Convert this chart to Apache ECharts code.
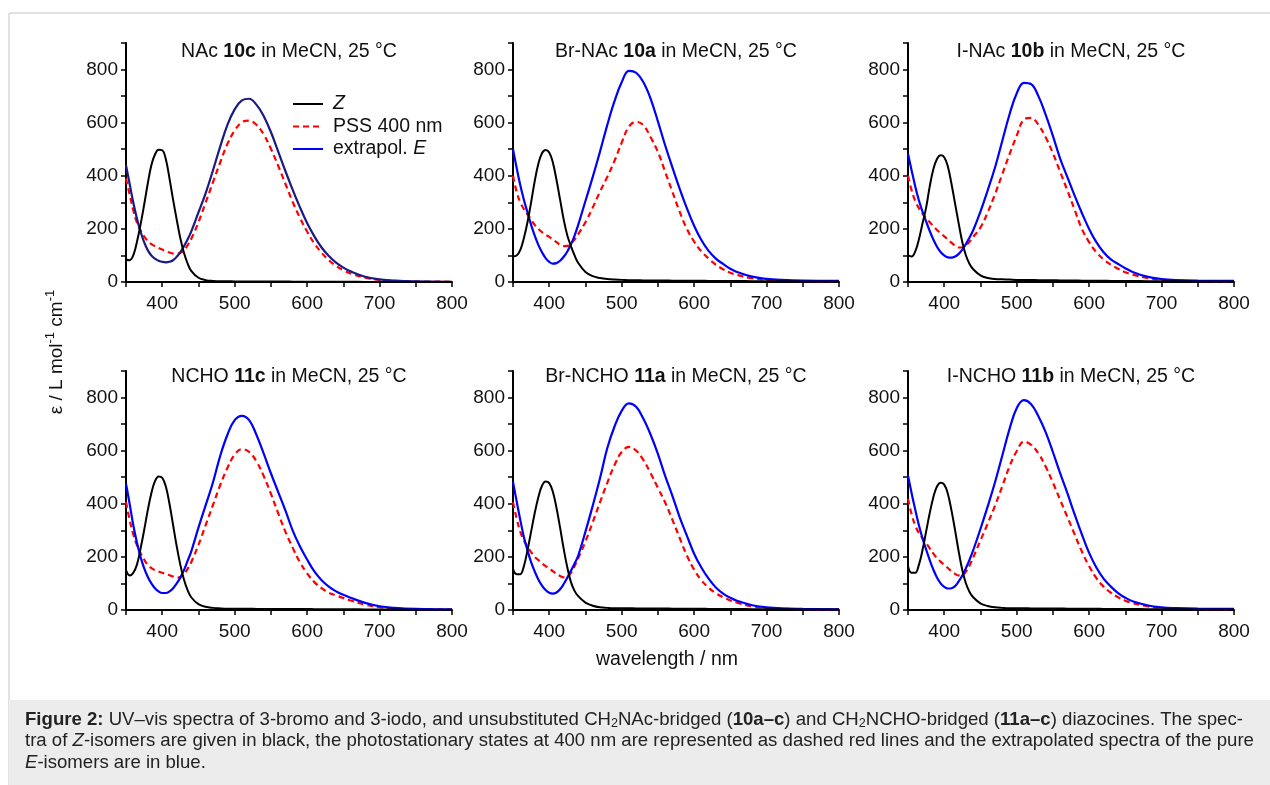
<!DOCTYPE html>
<html><head><meta charset="utf-8">
<script src="https://cdn.jsdelivr.net/npm/echarts@6/dist/echarts.min.js"></script>
<style>html,body{margin:0;padding:0;background:#fff}#c{width:1270px;height:785px}</style>
</head><body><div id="c"></div>
<script>
// wavelengths (nm)
const wl = [350,355,360,365,370,375,380,385,390,395,400,405,410,415,420,425,430,435,440,450,460,470,480,490,500,510,520,530,540,550,560,570,580,590,600,610,620,630,640,650,660,680,700,720,750,800];

// NAc 10c
const z10c   = [85,82,100,150,215,290,370,440,480,498,496,462,390,310,235,165,110,70,42,16,7,4,3,3,2,2,2,2,2,2,2,2,1,1,1,1,1,1,1,1,1,0,0,0,0,0];
const pss10c = [390,330,270,225,195,172,155,143,135,128,122,116,111,107,106,110,120,138,162,225,300,375,450,520,570,602,608,592,556,502,438,370,302,242,190,145,110,82,60,44,32,16,8,4,2,1];
const ext10c = [440,370,300,240,190,150,120,100,88,80,76,74,76,82,95,112,135,160,190,262,335,420,510,592,650,684,690,668,625,565,492,418,348,282,222,172,130,98,73,54,40,20,10,5,2,1];
// Br-NAc 10a
const z10a   = [97,100,120,165,225,300,380,445,485,497,488,450,385,310,235,175,135,100,72,38,22,15,11,9,8,7,7,6,6,6,6,5,5,5,5,5,4,4,4,4,4,3,3,3,2,2];
const pss10a = [400,340,300,275,255,235,215,200,188,178,170,160,150,140,135,136,145,160,180,225,280,340,395,455,525,585,603,590,545,490,415,340,265,200,152,115,88,65,48,35,26,14,8,5,3,2];
const ext10a = [500,430,365,310,262,215,175,140,112,90,76,69,71,80,95,115,142,175,215,305,395,490,590,680,752,795,788,752,690,605,515,432,352,278,212,158,117,88,68,50,37,20,12,8,5,4];
// I-NAc 10b
const z10b   = [100,96,115,160,220,280,360,425,463,477,470,435,370,295,220,150,100,68,48,25,15,11,10,9,8,8,8,7,7,7,6,6,6,5,5,5,5,4,4,4,4,3,3,3,2,2];
const pss10b = [400,345,305,278,258,240,225,210,196,184,172,160,148,137,130,130,138,152,170,205,262,330,405,480,550,612,618,592,545,485,415,345,272,200,150,112,85,65,50,37,28,15,8,5,3,2];
const ext10b = [483,420,360,308,265,228,192,160,133,113,100,93,92,96,106,122,143,168,195,265,345,430,530,630,710,750,745,700,630,550,465,395,325,260,200,150,112,85,68,52,38,20,11,7,5,4];
// NCHO 11c
const z11c   = [150,130,140,170,230,300,375,440,485,503,498,465,400,320,240,170,115,75,48,22,12,8,6,5,5,5,5,4,4,4,4,4,4,4,4,3,3,3,3,3,3,2,2,2,1,1];
const pss11c = [407,340,285,245,215,190,170,158,150,145,140,136,131,126,122,124,135,155,180,245,320,395,470,535,585,606,595,560,505,438,365,295,235,180,138,105,82,65,55,45,36,20,11,6,3,2];
const ext11c = [476,400,320,255,200,158,125,100,82,70,64,64,70,82,100,122,150,185,220,310,395,480,580,660,715,731,715,660,590,515,445,375,300,240,190,145,112,88,70,57,46,27,14,8,4,2];
// Br-NCHO 11a
const z11a   = [155,135,135,165,225,295,365,425,468,484,478,445,385,310,230,160,105,72,52,28,16,10,8,7,7,7,6,6,6,6,6,5,5,5,5,5,4,4,4,4,4,3,3,3,2,2];
const pss11a = [406,345,295,262,238,218,200,188,176,165,156,146,136,128,123,125,140,165,195,258,330,405,478,545,595,614,600,565,515,460,405,340,272,205,152,112,84,63,48,36,27,14,8,5,3,2];
const ext11a = [482,410,340,275,225,180,145,115,92,75,65,62,66,78,98,122,148,175,205,295,392,495,608,690,750,778,765,720,660,588,505,430,350,280,212,160,118,85,62,46,34,18,10,6,4,2];
// I-NCHO 11b
const z11b   = [165,140,140,170,225,295,365,425,465,479,472,438,375,300,220,150,100,68,48,25,15,10,8,7,7,7,6,6,6,6,6,5,5,5,5,5,4,4,4,4,4,3,3,3,2,2];
const pss11b = [419,360,318,290,270,252,232,212,195,182,170,158,146,136,130,131,145,168,198,262,325,392,465,540,598,634,622,590,540,480,415,350,285,220,165,120,88,65,48,35,26,14,8,5,3,2];
const ext11b = [506,440,378,320,270,228,188,152,122,100,87,81,82,90,108,130,158,190,225,305,390,480,580,680,760,790,775,730,670,595,515,440,360,285,215,160,118,88,64,46,33,18,10,7,5,4];

const panelPrefix = ['NAc','Br-NAc','I-NAc','NCHO','Br-NCHO','I-NCHO'];
const compounds   = ['10c','10a','10b','11c','11a','11b'];
const zSets   = [z10c, z10a, z10b, z11c, z11a, z11b];
const pssSets = [pss10c, pss10a, pss10b, pss11c, pss11a, pss11b];
const extSets = [ext10c, ext10a, ext10b, ext11c, ext11a, ext11b];
const seriesNames = ['Z','PSS 400 nm','extrapol. E'];
const xTickLabels = [400,500,600,700,800];
const yTickLabels = [0,200,400,600,800];

const FONT = 'Liberation Sans, Arial, Helvetica, sans-serif';
const lefts = [126, 513, 908], tops = [43, 371], GW = 326, GH = 239;
const titleY = [52, 377];

const grids = [], xAxes = [], yAxes = [], series = [], graphics = [];
for (let k = 0; k < 6; k++) {
  const col = k % 3, row = Math.floor(k / 3);
  grids.push({left: lefts[col], top: tops[row], width: GW, height: GH, containLabel: false});
  xAxes.push({
    gridIndex: k, type: 'value', min: 350, max: 800, interval: 50,
    axisLine: {show: true, onZero: false, lineStyle: {color: '#000', width: 2}},
    axisTick: {show: true, length: 5, lineStyle: {color: '#000', width: 1.5}},
    axisLabel: {formatter: v => xTickLabels.includes(v) ? String(v) : '', fontSize: 19, color: '#111', margin: 12, fontFamily: FONT},
    splitLine: {show: false}
  });
  yAxes.push({
    gridIndex: k, type: 'value', min: 0, max: 900, interval: 100,
    axisLine: {show: true, lineStyle: {color: '#000', width: 2}},
    axisTick: {show: true, length: 5, lineStyle: {color: '#000', width: 1.5}},
    axisLabel: {formatter: v => yTickLabels.includes(v) ? String(v) : '', fontSize: 19, color: '#111', margin: 8, fontFamily: FONT},
    splitLine: {show: false}
  });
  const mk = arr => wl.map((x, i) => [x, arr[i]]);
  series.push({
    name: seriesNames[1], type: 'line', xAxisIndex: k, yAxisIndex: k, data: mk(pssSets[k]),
    symbol: 'none', smooth: 0.4, lineStyle: {color: '#ff0000', width: 2.2, type: [6, 4]}, itemStyle: {color: '#ff0000'}, z: 2
  });
  const blue = k === 0 ? '#1a1a85' : '#0000ff';
  series.push({
    name: seriesNames[2], type: 'line', xAxisIndex: k, yAxisIndex: k, data: mk(extSets[k]),
    symbol: 'none', smooth: 0.4, lineStyle: {color: blue, width: 2.2}, itemStyle: {color: blue}, z: 3
  });
  series.push({
    name: seriesNames[0], type: 'line', xAxisIndex: k, yAxisIndex: k, data: mk(zSets[k]),
    symbol: 'none', smooth: 0.4, lineStyle: {color: '#000', width: 2}, itemStyle: {color: '#000'}, z: 4
  });
  graphics.push({
    type: 'text', x: lefts[col] + GW / 2, y: titleY[row],
    style: {
      text: panelPrefix[k] + ' {b|' + compounds[k] + '} in MeCN, 25 °C',
      fontSize: 19.5, fontFamily: FONT, fill: '#111', align: 'center', verticalAlign: 'middle',
      rich: {b: {fontWeight: 'bold', fontSize: 19.5, fontFamily: FONT, fill: '#111'}}
    }
  });
}

// frame & caption
graphics.unshift(
  {type: 'line', shape: {x1: 9, y1: 13, x2: 1270, y2: 13}, style: {stroke: '#e2e2e2', lineWidth: 2}, silent: true},
  {type: 'line', shape: {x1: 9, y1: 13, x2: 9, y2: 785}, style: {stroke: '#e2e2e2', lineWidth: 2}, silent: true},
  {type: 'rect', shape: {x: 9, y: 700, width: 1261, height: 85}, style: {fill: '#ececec'}, silent: true}
);
graphics.push(
  {type: 'text', x: 57, y: 352, rotation: Math.PI / 2,
   style: {text: 'ε / L mol{sup|-1} cm{sup|-1}', fontSize: 19, fontFamily: FONT, fill: '#111', align: 'center', verticalAlign: 'middle', lineHeight: 26,
           rich: {sup: {fontSize: 13, fontFamily: FONT, verticalAlign: 'top', lineHeight: 11, fill: '#111'}}}},
  {type: 'text', x: 667, y: 660,
   style: {text: 'wavelength / nm', fontSize: 19.5, fontFamily: FONT, fill: '#111', align: 'center', verticalAlign: 'middle'}},
  {type: 'text', x: 25, y: 709,
   style: {
     text: [
       '{b|Figure 2:} UV–vis spectra of 3-bromo and 3-iodo, and unsubstituted CH{s|2}NAc-bridged ({b|10a–c}) and CH{s|2}NCHO-bridged ({b|11a–c}) diazocines. The spec-',
       'tra of {i|Z}-isomers are given in black, the photostationary states at 400 nm are represented as dashed red lines and the extrapolated spectra of the pure',
       '{i|E}-isomers are in blue.'
     ].join('\n'),
     fontSize: 18.6, fontFamily: FONT, fill: '#222', lineHeight: 21.5, align: 'left', verticalAlign: 'top',
     rich: {
       b: {fontWeight: 'bold', fontSize: 18.6, fontFamily: FONT, lineHeight: 21.5, fill: '#222'},
       i: {fontStyle: 'italic', fontSize: 18.6, fontFamily: FONT, lineHeight: 21.5, fill: '#222'},
       s: {fontSize: 12.5, fontFamily: FONT, verticalAlign: 'bottom', lineHeight: 14, fill: '#222'}
     }
   }}
);

const chart = echarts.init(document.getElementById('c'), null, {renderer: 'canvas'});
chart.setOption({
  animation: false,
  backgroundColor: '#fff',
  grid: grids, xAxis: xAxes, yAxis: yAxes, series: series,
  legend: {
    data: [{name: 'Z'}, {name: 'PSS 400 nm'}, {name: 'extrapol. E', lineStyle: {color: '#0000ff'}}],
    orient: 'vertical', left: 292, top: 94, itemWidth: 30, itemHeight: 14, itemGap: 2.5, padding: 0,
    selectedMode: false,
    itemStyle: {opacity: 0},
    formatter: n => n === 'Z' ? '{i|Z}' : (n === 'extrapol. E' ? 'extrapol. {i|E}' : n),
    textStyle: {fontSize: 19.5, color: '#111', fontFamily: FONT, padding: [0, 0, 0, 5],
      rich: {i: {fontStyle: 'italic', fontSize: 19.5, fontFamily: FONT, color: '#111'}}}
  },
  graphic: graphics
});
</script></body></html>
